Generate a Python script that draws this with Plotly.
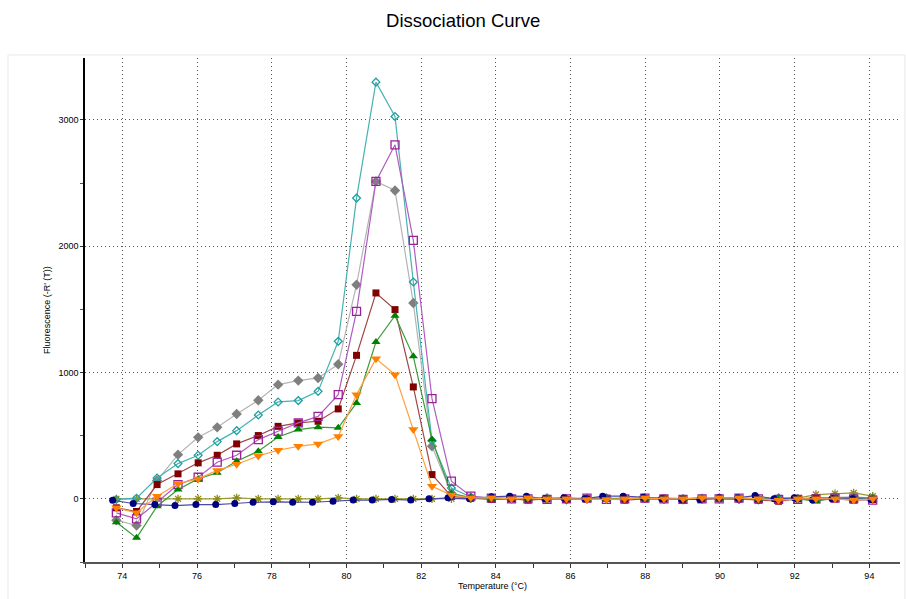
import plotly.graph_objects as go

# Melt-step temperatures (°C)
temps = [73.84, 74.38, 74.93, 75.49, 76.03, 76.54, 77.06, 77.64, 78.17, 78.71,
         79.24, 79.78, 80.27, 80.79, 81.30, 81.79, 82.29, 82.81, 83.33, 83.88,
         84.42, 84.86, 85.37, 85.89, 86.44, 86.96, 87.45, 87.99, 88.50, 89.01,
         89.52, 89.98, 90.51, 91.03, 91.57, 92.08, 92.57, 93.08, 93.58, 94.09]

# Temperatures logged for the no-template well
temps_ntc = [73.74, 74.29, 74.87, 75.41, 75.97, 76.50, 77.01, 77.50, 78.04, 78.56,
             79.09, 79.64, 80.18, 80.69, 81.21, 81.72, 82.21, 82.72, 83.30, 83.88,
             84.37, 84.82, 85.31, 85.82, 86.38, 86.86, 87.41, 87.94, 88.44, 88.97,
             89.46, 89.98, 90.47, 90.94, 91.45, 91.99, 92.48, 93.00, 93.55, 94.04]

# -R'(T) per well
olive_vals = [0, 0, 0, 0, 0, 0, 8, 0, 0, 0, 0, 8, 0, 0, 0, 0, 0, 0, 0, 0,
              0, 5, 0, 0, 0, 0, 0, 0, 0, 0, 0, 0, 0, 0, 5, 5, 34, 40, 47, 21]
gray_vals = [-169, -211, 145, 350, 487, 566, 672, 780, 904, 936,
             957, 1065, 1695, 2513, 2441, 1550, 416, 45, 10, 5,
             8, 0, 5, -5, 0, 5, 0, 8, 0, -5, 0, 5, 0, -5, 5, 0, 8, 10, 15, 5]
cyan_vals = [-5, 5, 165, 279, 345, 453, 540, 664, 767, 778,
             851, 1247, 2381, 3299, 3027, 1717, 461, 85, 15, 5,
             0, 5, 0, -5, 5, 0, 0, 5, -5, 0, 5, 0, -5, 0, 5, 0, 5, 10, 5, 0]
red_vals = [-71, -100, 113, 198, 285, 345, 435, 501, 574, 601,
            614, 712, 1136, 1630, 1498, 886, 192, 20, 5, -5,
            0, -10, 0, -5, 0, 5, -10, 0, 0, -5, 0, 5, 0, -10, -19, 0, 5, 0, -10, -5]
magenta_vals = [-111, -158, -27, 113, 171, 290, 345, 469, 535, 601,
                653, 825, 1484, 2513, 2803, 2046, 793, 140, 21, 5,
                0, 0, -5, 0, 5, -5, 0, 5, 0, -5, 0, 0, 5, 0, -5, -5, 0, 5, 0, -10]
green_vals = [-185, -309, -58, 74, 158, 206, 298, 377, 490, 548,
              567, 562, 759, 1242, 1450, 1128, 469, 40, 10, 0,
              5, 0, 5, 0, -5, 0, 5, 0, 5, 0, 5, 0, 5, 0, -5, 0, -19, 5, 10, 5]
navy_vals = [-11, -37, -45, -53, -45, -45, -37, -27, -24, -27,
             -27, -19, -10, -10, -5, -10, 0, 8, 0, 16,
             21, 20, 0, 8, 0, 21, 21, 13, 0, -5, -5, 8, 8, 26, 0, 8, -10, 0, 0, -5]
orange_vals = [-71, -110, 21, 121, 158, 225, 274, 340, 385, 416,
               435, 493, 825, 1110, 983, 548, 100, 30, 8, 8,
               0, 8, 0, 0, -5, -5, 0, 8, 0, 0, 8, 8, 8, 0, -10, 0, 0, 0, -10, 0]

x_ticks = [74, 76, 78, 80, 82, 84, 86, 88, 90, 92, 94]
y_ticks = [0, 1000, 2000, 3000]

# (x, y, marker symbol, marker size, marker colour, line colour, open marker)
series = [
    (temps, olive_vals, "asterisk-open", 7, "#8c8c14", "#9a9a30", True),
    (temps, gray_vals, "diamond", 8, "#7f7f7f", "#b4b4b4", False),
    (temps, cyan_vals, "diamond-open", 6, "#1f9f9f", "#46b2b2", True),
    (temps, red_vals, "square", 7, "#800000", "#a04646", False),
    (temps, magenta_vals, "square-open", 8, "#99209a", "#b05cc0", True),
    (temps, green_vals, "triangle-up", 8, "#008000", "#3c9a3c", False),
    (temps_ntc, navy_vals, "circle", 7, "#000080", "#4a4aa6", False),
    (temps, orange_vals, "triangle-down", 9, "#ff8000", "#ffa040", False),
]

fig = go.Figure()
for xs, ys, sym, size, mcol, lcol, is_open in series:
    marker = dict(symbol=sym, size=size, color=mcol)
    if is_open:
        marker["line"] = dict(color=mcol, width=1.3)
    else:
        marker["line"] = dict(width=0)
    fig.add_trace(go.Scatter(
        x=xs, y=ys, mode="lines+markers",
        line=dict(color=lcol, width=1.2),
        marker=marker, showlegend=False, hoverinfo="x+y",
    ))

font_family = "Liberation Sans, Arial, sans-serif"
grid_dash = "1px,3px"

fig.update_layout(
    width=906, height=599,
    margin=dict(l=85, r=6, t=58, b=37),
    paper_bgcolor="white", plot_bgcolor="white",
    font=dict(family=font_family, size=9, color="#000000"),
    title=dict(text="Dissociation Curve", x=0.464, xref="paper", xanchor="center",
               y=0.966, yref="container", yanchor="middle",
               font=dict(family=font_family, size=18.5, color="#000000")),
    showlegend=False,
    shapes=[dict(type="rect", xref="paper", yref="paper",
                 x0=-0.0945, x1=1.006, y0=-0.1, y1=1.006,
                 line=dict(color="#e8e8e8", width=1), layer="below")],
)

fig.update_xaxes(
    range=[73.0, 94.82], tickmode="array", tickvals=x_ticks,
    ticktext=[str(v) for v in x_ticks],
    showgrid=True, gridcolor="#555555", griddash=grid_dash, gridwidth=1,
    showline=True, linecolor="#555555", linewidth=1.5,
    ticks="outside", ticklen=4, tickcolor="#333333",
    minor=dict(dtick=1, tick0=73, ticks="outside", ticklen=4, tickcolor="#333333", showgrid=False),
    zeroline=False,
    title=dict(text="Temperature (°C)", standoff=1, font=dict(size=9)),
    tickfont=dict(size=9),
)
fig.update_yaxes(
    range=[-500, 3490], tickmode="array", tickvals=y_ticks,
    ticktext=[str(v) for v in y_ticks],
    showgrid=True, gridcolor="#555555", griddash=grid_dash, gridwidth=1,
    showline=True, linecolor="#000000", linewidth=1.5,
    ticks="outside", ticklen=3, tickcolor="#333333",
    minor=dict(dtick=500, tick0=0, ticks="outside", ticklen=3, tickcolor="#555555", showgrid=False),
    zeroline=False,
    title=dict(text="Fluorescence (-R' (T))", standoff=6, font=dict(size=9)),
    tickfont=dict(size=9),
)

fig.write_html("out.html")
